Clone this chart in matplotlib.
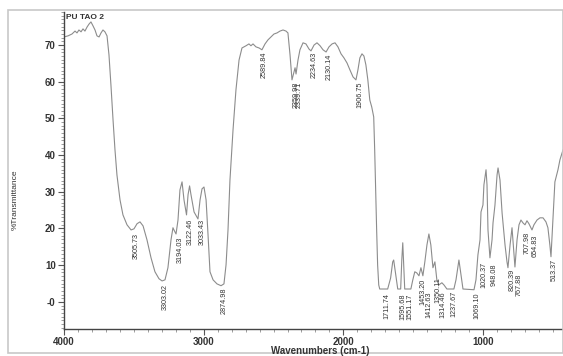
# FTIR spectrum - PU TAO 2
import matplotlib
matplotlib.use("Agg")
import matplotlib.pyplot as plt
from matplotlib.patches import Rectangle
from matplotlib.ticker import MultipleLocator

plt.rcParams["font.family"] = ["Liberation Sans", "DejaVu Sans"]

# spectrum trace (wavenumber cm-1, %T)
wavenumber = [
    4000, 3971, 3943, 3921, 3907, 3893, 3878, 3864, 3850, 3835, 3821, 3807,
    3792, 3778, 3764, 3749, 3735, 3721, 3707, 3692, 3678, 3664, 3649, 3635,
    3621, 3599, 3578, 3549, 3520, 3499, 3477, 3456, 3434, 3406, 3377, 3349,
    3320, 3298, 3277, 3256, 3234, 3220, 3213, 3198, 3184, 3170, 3155, 3141,
    3123, 3112, 3101, 3091, 3069, 3041, 3026, 3012, 2998, 2983, 2969, 2955,
    2933, 2905, 2876, 2855, 2840, 2826, 2812, 2790, 2769, 2747, 2726, 2697,
    2676, 2662, 2647, 2626, 2604, 2583, 2561, 2540, 2518, 2497, 2475, 2454,
    2432, 2411, 2397, 2382, 2368, 2353, 2346, 2339, 2325, 2311, 2289, 2268,
    2246, 2232, 2210, 2189, 2167, 2146, 2124, 2103, 2081, 2060, 2039, 2017,
    1996, 1974, 1953, 1931, 1910, 1896, 1882, 1867, 1853, 1839, 1825, 1811,
    1797, 1783, 1776, 1769, 1762, 1755, 1747, 1740, 1683, 1662, 1647, 1640,
    1626, 1611, 1590, 1582, 1575, 1568, 1561, 1517, 1503, 1489, 1475, 1459,
    1445, 1431, 1417, 1402, 1388, 1374, 1359, 1345, 1331, 1317, 1295, 1280,
    1259, 1209, 1194, 1173, 1158, 1144, 1065, 1051, 1037, 1022, 1015, 1001,
    994, 979, 972, 965, 951, 936, 929, 915, 900, 893, 879, 864,
    843, 829, 822, 807, 793, 779, 772, 757, 743, 729, 714, 700,
    686, 672, 650, 636, 614, 593, 571, 550, 536, 522, 514, 500,
    486, 464, 450, 428,
]
transmittance = [
    72.2, 72.5, 73.0, 73.8, 73.3, 74.1, 73.6, 74.4, 73.8, 74.9, 75.7, 76.3,
    75.2, 74.1, 72.5, 72.2, 73.3, 74.1, 73.6, 72.5, 67.3, 59.1, 49.6, 41.4,
    34.6, 27.8, 23.7, 21.0, 19.6, 19.9, 21.3, 21.8, 20.7, 16.9, 12.0, 8.2,
    6.3, 5.7, 6.0, 9.3, 16.9, 20.2, 19.6, 18.5, 22.3, 30.5, 32.7, 27.8,
    23.7, 29.2, 31.6, 29.2, 24.5, 22.6, 27.8, 30.8, 31.3, 27.8, 18.3, 8.2,
    6.0, 4.9, 4.4, 4.9, 10.1, 19.6, 33.2, 46.9, 57.8, 65.9, 69.2, 69.8,
    70.3, 69.8, 70.3, 69.5, 69.2, 68.7, 70.3, 71.4, 72.2, 73.0, 73.3, 73.8,
    74.1, 73.8, 73.3, 67.3, 60.5, 62.7, 63.8, 62.1, 65.9, 68.7, 70.6, 70.3,
    68.9, 68.4, 70.0, 70.6, 69.8, 68.7, 68.1, 69.5, 70.3, 70.6, 69.5, 67.6,
    66.5, 65.1, 63.2, 61.3, 60.5, 63.2, 66.5, 67.6, 67.0, 64.6, 60.5, 55.0,
    53.1, 50.4, 41.4, 30.5, 19.6, 10.1, 4.6, 3.5, 3.5, 6.5, 10.9, 11.4,
    7.6, 3.5, 3.5, 11.4, 16.1, 10.1, 3.5, 3.5, 6.0, 8.2, 7.9, 7.1,
    9.3, 7.1, 10.9, 15.5, 18.5, 15.5, 9.3, 10.9, 6.0, 4.6, 5.2, 4.6,
    3.5, 3.5, 6.0, 11.4, 7.4, 3.5, 3.3, 6.0, 12.8, 16.9, 24.5, 26.4,
    31.9, 36.0, 31.9, 19.6, 12.0, 16.9, 21.5, 26.4, 34.6, 36.5, 33.2, 24.2,
    15.5, 10.9, 9.3, 15.5, 20.2, 12.8, 9.5, 16.9, 21.0, 22.3, 21.5, 21.0,
    22.1, 21.3, 19.6, 21.0, 22.3, 22.9, 22.9, 21.8, 20.2, 15.5, 12.3, 22.3,
    32.7, 36.0, 38.7, 41.4,
]

# peak picks: label text and the %T where the label starts
peak_labels = [
    "3505.73", "3303.02", "3194.03", "3122.46", "3033.43", "2874.98",
    "2589.84", "2359.98", "2339.71", "2234.63", "2130.14", "1906.75",
    "1711.74", "1595.68", "1551.17", "1453.20", "1412.63", "1350.11",
    "1314.46", "1237.67", "1069.10", "1020.37", "948.08", "820.39",
    "767.88", "707.98", "654.83", "513.37",
]
peak_top = [
    19.3, 5.4, 18.3, 23.2, 22.9, 4.4,
    68.7, 60.5, 60.5, 68.7, 68.1, 60.5,
    2.7, 2.7, 2.7, 6.8, 3.3, 7.1,
    3.3, 3.3, 3.0, 11.4, 10.9, 9.3,
    8.2, 19.6, 18.8, 12.0,
]

W, H = 563, 356
fig = plt.figure(figsize=(W / 100, H / 100), dpi=100)
fig.patch.set_facecolor("white")

# scanned page frame
fig.add_artist(Rectangle((8 / W, 1 - 353 / H), (W - 8) / W, (353 - 10) / H,
                         transform=fig.transFigure, fill=False,
                         edgecolor="#c8c8c8", linewidth=1.2))

ax = fig.add_axes([64 / W, 1 - 329 / H, (W - 64) / W, (329 - 12) / H])
ax.plot(wavenumber, transmittance, color="#8c8c8c", linewidth=0.8)

for lab, top in zip(peak_labels, peak_top):
    ax.text(float(lab), top - 0.4, lab, rotation=90, ha="left", va="top",
            fontsize=5.2, color="#333333",
            family=["Liberation Sans Narrow", "Liberation Sans", "DejaVu Sans"])

ax.set_xlim(4000, 428)
ax.set_ylim(-7.4, 79)
ax.set_xticks([4000, 3000, 2000, 1000])
ax.xaxis.set_minor_locator(MultipleLocator(100))
ax.set_yticks([0, 10, 20, 30, 40, 50, 60, 70])
ax.set_yticklabels(["-0", "10", "20", "30", "40", "50", "60", "70"])
ax.yaxis.set_minor_locator(MultipleLocator(1))

for s in ["top", "right"]:
    ax.spines[s].set_visible(False)
for s in ["left", "bottom"]:
    ax.spines[s].set_color("#444444")
    ax.spines[s].set_linewidth(1.0)

ax.tick_params(which="major", length=4, width=0.8, color="#555555",
               labelsize=7, labelcolor="#333333", pad=2)
ax.tick_params(axis="x", which="major", pad=1.5)
ax.tick_params(which="minor", length=2, width=0.5, color="#777777")
for t in ax.get_xticklabels() + ax.get_yticklabels():
    t.set_fontweight("bold")

ax.text(0.004, 0.995, "PU TAO 2", transform=ax.transAxes, ha="left", va="top",
        fontsize=6, fontweight="bold", color="#333333")

fig.text(320 / W, 1 - 351.5 / H, "Wavenumbers (cm-1)", ha="center", va="center",
         fontsize=7, fontweight="bold", color="#333333")
fig.text(15 / W, 1 - 200 / H, "%Transmittance", ha="center", va="center",
         rotation=90, fontsize=6, color="#333333")

fig.savefig("out.png", dpi=100, facecolor="white")
